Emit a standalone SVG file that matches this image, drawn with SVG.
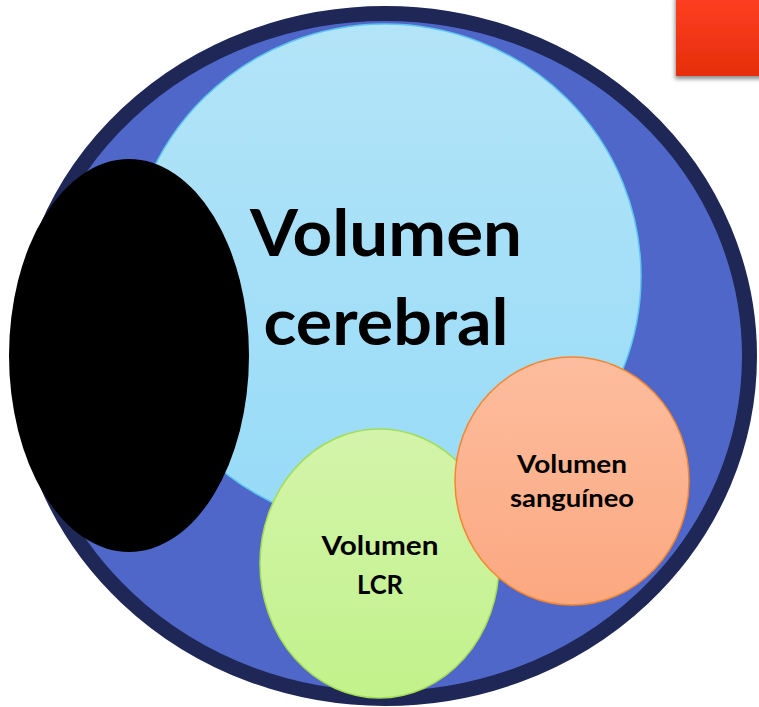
<svg xmlns="http://www.w3.org/2000/svg" width="759" height="707" viewBox="0 0 759 707">
  <style>
    .lbl { font-family: Lato, "Open Sans", "Liberation Sans", sans-serif; font-weight: bold; fill: #000; text-anchor: middle; }
  </style>
  <defs>
    <linearGradient id="gBlue" x1="0" y1="0" x2="0" y2="1">
      <stop offset="0" stop-color="#B3E4F8"/>
      <stop offset="1" stop-color="#97DBF7"/>
    </linearGradient>
    <linearGradient id="gSalmon" x1="0" y1="0" x2="0" y2="1">
      <stop offset="0" stop-color="#FDBD9E"/>
      <stop offset="1" stop-color="#FBA880"/>
    </linearGradient>
    <linearGradient id="gGreen" x1="0" y1="0" x2="0" y2="1">
      <stop offset="0" stop-color="#D3F4AA"/>
      <stop offset="1" stop-color="#C2F28B"/>
    </linearGradient>
    <linearGradient id="gRed" x1="0" y1="0" x2="0" y2="1">
      <stop offset="0" stop-color="#FF3F22"/>
      <stop offset="1" stop-color="#E52E0B"/>
    </linearGradient>
    <filter id="shadow" x="-20%" y="-20%" width="140%" height="150%">
      <feDropShadow dx="-1" dy="3" stdDeviation="2" flood-color="#000" flood-opacity="0.45"/>
    </filter>
  </defs>

  <g id="red-box">
    <rect x="676" y="-5" width="90" height="81" fill="url(#gRed)" filter="url(#shadow)"/>
  </g>

  <g id="outer">
    <ellipse cx="385" cy="356" rx="364.5" ry="342.5" fill="#4F67C8" stroke="#1E2756" stroke-width="15"/>
  </g>

  <g id="cerebral">
    <ellipse cx="385" cy="276" rx="256" ry="252" fill="url(#gBlue)" stroke="#5CC6F0" stroke-width="1.5"/>
    <text class="lbl" x="386" y="256" font-size="65" textLength="272" lengthAdjust="spacingAndGlyphs">Volumen</text>
    <text class="lbl" x="386" y="345" font-size="65" textLength="245" lengthAdjust="spacingAndGlyphs">cerebral</text>
  </g>

  <g id="lcr">
    <ellipse cx="379.5" cy="563.5" rx="119.5" ry="134.5" fill="url(#gGreen)" stroke="#A5DC55" stroke-width="1.5"/>
    <text class="lbl" x="380" y="555" font-size="27" textLength="117" lengthAdjust="spacingAndGlyphs">Volumen</text>
    <text class="lbl" x="380" y="594" font-size="27" textLength="46" lengthAdjust="spacingAndGlyphs">LCR</text>
  </g>

  <g id="sanguineo">
    <ellipse cx="572" cy="481" rx="117" ry="124" fill="url(#gSalmon)" stroke="#F5862F" stroke-width="1.5"/>
    <text class="lbl" x="572" y="473" font-size="25.5" textLength="110" lengthAdjust="spacingAndGlyphs">Volumen</text>
    <text class="lbl" x="572" y="507" font-size="25.5" textLength="124" lengthAdjust="spacingAndGlyphs">sanguíneo</text>
  </g>

  <g id="black-ellipse">
    <ellipse cx="129" cy="355.5" rx="120" ry="196.5" fill="#000"/>
  </g>

  <g id="connectors"/>
</svg>
